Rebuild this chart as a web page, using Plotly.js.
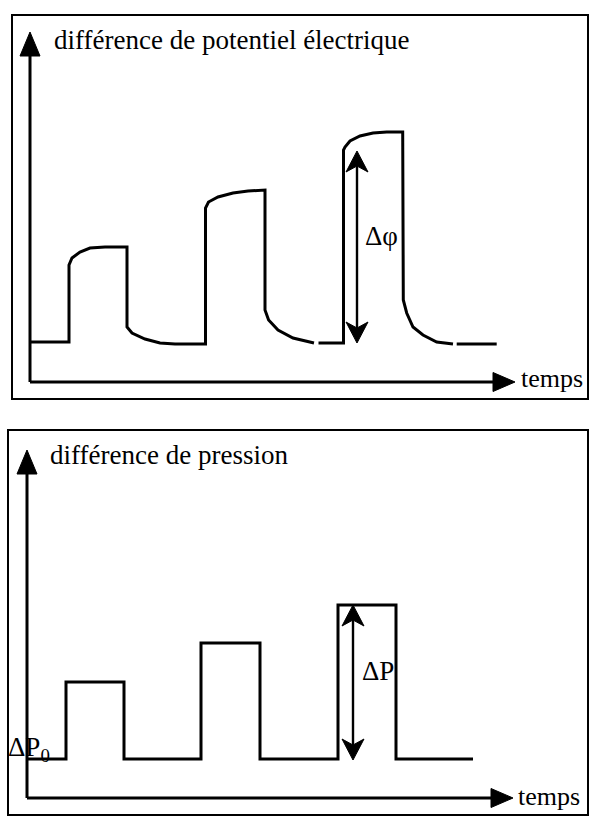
<!DOCTYPE html>
<html>
<head>
<meta charset="utf-8">
<script src="https://cdn.plot.ly/plotly-3.0.1.min.js"></script>
<style>html,body{margin:0;padding:0;background:#fff;}#chart{width:589px;height:816px;}</style>
</head>
<body>
<div id="chart"></div>
<script>
// ---- Data (arbitrary units) ----
// Top panel: electric potential difference vs time (null = small gap in the drawn trace)
const timePot = [0, 3.9, 3.9, 4.2, 5.0, 6.0, 7.5, 9.7, 9.7, 10.2, 11.5, 13.0, 14.5, 17.55,
  17.55, 17.85, 18.8, 20.3, 21.8, 23.5, 23.5, 23.86, 24.8, 26.3, 28.4, null,
  28.85, 31.35, 31.35, 31.5, 32.0, 33.0, 34.3, 35.67, 37.27, 37.27, 37.33, 37.67, 38.3, 39.3, 40.67, 42.3, null,
  42.67, 46.67];
const potential = [4.0, 4.0, 11.7, 12.4, 13.0, 13.4, 13.5, 13.5, 5.5, 4.9, 4.3, 3.9, 3.8, 3.8,
  17.4, 18.0, 18.5, 18.9, 19.1, 19.2, 7.2, 6.2, 5.2, 4.4, 3.9, null,
  3.9, 3.9, 23.2, 23.5, 24.1, 24.6, 24.9, 25.0, 25.0, 8.9, 8.2, 6.9, 5.5, 4.7, 4.0, 3.8, null,
  3.8, 3.8];
// Bottom panel: pressure difference (step function)
const timePres = [0, 3.9, 9.7, 17.4, 23.3, 31.1, 36.9, 44.6];
const pressure = [3.9, 11.6, 3.9, 15.5, 3.9, 19.3, 3.9, 3.9];
// Amplitude markers (third pulse)
const dPhi = {t: 32.7, from: 3.9, to: 23.1};
const dP = {t: 32.6, from: 3.8, to: 19.3};
const axisTop = 35.0, axisEnd = 48.5, axisTop2 = 34.8, axisEnd2 = 48.6;
const labels = {
  potTitle: 'différence de potentiel électrique',
  presTitle: 'différence de pression',
  time: 'temps', dPhi: 'Δφ', dP: 'ΔP', dP0: 'ΔP<sub>0</sub>'
};

const W = 589, H = 816;
const px = x => x / W, py = y => 1 - y / H;
const FONT = 'Liberation Serif, Times New Roman, serif';
const U = 10; // pixels per axis unit (both axes, both panels)

const traces = [
  {x: timePot, y: potential, xaxis: 'x', yaxis: 'y', mode: 'lines', connectgaps: false,
   line: {color: '#000', width: 3}, hoverinfo: 'skip'},
  {x: timePres, y: pressure, xaxis: 'x2', yaxis: 'y2', mode: 'lines',
   line: {color: '#000', width: 3, shape: 'hv'}, hoverinfo: 'skip'}
];

const hidden = {showgrid: false, zeroline: false, showticklabels: false, showline: false, ticks: '', fixedrange: true};

function seg(xr, yr, x0, y0, x1, y1, w) {
  return {type: 'line', xref: xr, yref: yr, x0: x0, y0: y0, x1: x1, y1: y1, line: {color: '#000', width: w}};
}
// arrowhead polygon given as pixel offsets from the tip (y up), converted to axis units
function head(xr, yr, x, y, pts) {
  const p = pts.map((q, i) => (i ? 'L' : 'M') + (x + q[0] / U).toFixed(3) + ',' + (y + q[1] / U).toFixed(3)).join(' ') + ' Z';
  return {type: 'path', xref: xr, yref: yr, path: p, fillcolor: '#000', line: {color: '#000', width: 1}};
}
const HEAD_UP = [[0, 0], [-10, -24], [10, -24]];
const HEAD_RIGHT = [[0, 0], [-22, 9.5], [-22, -9.5]];
const BARB_UP = [[0, 0], [-11, -21], [0, -15], [11, -21]];
const BARB_DOWN = [[0, 0], [-11, 21], [0, 15], [11, 21]];

function axes(xr, yr, top, end) {
  return [seg(xr, yr, 0, 0, 0, top - 1.5, 3), head(xr, yr, 0, top, HEAD_UP),
          seg(xr, yr, 0, 0, end - 1.5, 0, 3), head(xr, yr, end, 0, HEAD_RIGHT)];
}
function dbl(xr, yr, m) {
  return [seg(xr, yr, m.t, m.from + 1.2, m.t, m.to - 1.2, 2.4), head(xr, yr, m.t, m.to, BARB_UP),
          head(xr, yr, m.t, m.from, BARB_DOWN)];
}
function txt(xr, yr, x, y, t, size, xa) {
  return {xref: xr, yref: yr, x: x, y: y, text: t, showarrow: false, xanchor: xa || 'left', yanchor: 'middle',
    font: {family: FONT, size: size, color: '#000'}};
}

const layout = {
  width: W, height: H, margin: {l: 0, r: 0, t: 0, b: 0},
  paper_bgcolor: '#fff', plot_bgcolor: 'rgba(0,0,0,0)', showlegend: false,
  // 10 px per unit; origin of top panel at pixel (30, 382), bottom panel at (27, 798)
  xaxis: Object.assign({domain: [px(0), px(530)], range: [-3, 50], anchor: 'y'}, hidden),
  yaxis: Object.assign({domain: [py(412), py(22)], range: [-3, 36], anchor: 'x'}, hidden),
  xaxis2: Object.assign({domain: [px(2), px(527)], range: [-2.5, 50], anchor: 'y2'}, hidden),
  yaxis2: Object.assign({domain: [py(813), py(438)], range: [-1.5, 36], anchor: 'x2'}, hidden),
  shapes: [
    {type: 'rect', xref: 'paper', yref: 'paper', x0: px(12), x1: px(588), y0: py(399), y1: py(15),
     line: {color: '#000', width: 2}},
    {type: 'rect', xref: 'paper', yref: 'paper', x0: px(8), x1: px(588), y0: py(815), y1: py(430),
     line: {color: '#000', width: 2}}
  ].concat(axes('x', 'y', axisTop, axisEnd), axes('x2', 'y2', axisTop2, axisEnd2),
           dbl('x', 'y', dPhi), dbl('x2', 'y2', dP)),
  annotations: [
    txt('paper', 'paper', px(52), py(40), labels.potTitle, 27),
    txt('paper', 'paper', px(48), py(455), labels.presTitle, 27),
    txt('paper', 'paper', px(519), py(378), labels.time, 26),
    txt('paper', 'paper', px(516), py(796), labels.time, 26),
    txt('x', 'y', 35.1, 14.6, labels.dPhi, 27, 'center'),
    txt('x2', 'y2', 33.3, 12.7, labels.dP, 27),
    txt('paper', 'paper', px(6), py(749), labels.dP0, 27)
  ]
};

Plotly.newPlot('chart', traces, layout, {staticPlot: true, displayModeBar: false});
</script>
</body>
</html>
